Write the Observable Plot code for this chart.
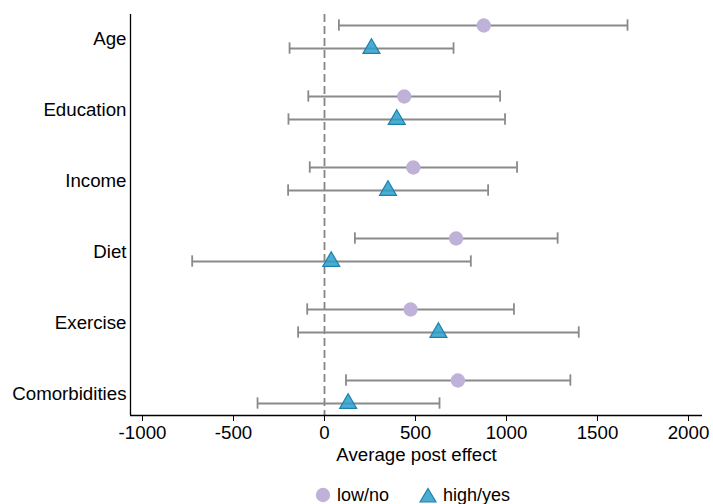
<!DOCTYPE html>
<html>
<head>
<meta charset="utf-8">
<script src="https://cdn.jsdelivr.net/npm/d3@7"></script>
<script src="https://cdn.jsdelivr.net/npm/@observablehq/plot@0.6"></script>
<style>
  html, body { margin: 0; padding: 0; background: #fff; }
  #chart { width: 713px; }
  .legend { position: relative; height: 34px; font-family: "Liberation Sans", Arial, sans-serif; font-size: 18px; color: #000; }
  .legend .item { position: absolute; top: 8px; height: 34px; display: flex; align-items: center; }
  .legend svg { margin-right: 6px; }
</style>
</head>
<body>
<div id="chart"></div>
<script>
const categories = ["Age", "Education", "Income", "Diet", "Exercise", "Comorbidities"];
const seriesNames = ["low/no", "high/yes"];
const lowEst = [875, 438, 488, 723, 473, 733];
const lowLo  = [79, -89, -81, 167, -95, 118];
const lowHi  = [1665, 965, 1058, 1281, 1041, 1351];
const highEst = [258, 397, 349, 37, 626, 130];
const highLo  = [-192, -198, -200, -727, -145, -368];
const highHi  = [709, 992, 899, 804, 1397, 632];
const xTicks = [-1000, -500, 0, 500, 1000, 1500, 2000];

const offsets = {"low/no": -0.162, "high/yes": 0.162};
const rows = [];
categories.forEach((c, i) => {
  rows.push({cat: c, i, series: "low/no", est: lowEst[i], lo: lowLo[i], hi: lowHi[i]});
  rows.push({cat: c, i, series: "high/yes", est: highEst[i], lo: highLo[i], hi: highHi[i]});
});
const yPos = d => d.i + offsets[d.series];
const capH = 0.08;
const low = rows.filter(d => d.series === "low/no");
const high = rows.filter(d => d.series === "high/yes");
const barColor = "#8a8a8a";
const xDomain = [-1066, 2077];
const yDomain = [-0.317, 5.331];

const plot = Plot.plot({
  width: 713,
  height: 470,
  marginLeft: 130,
  marginRight: 11,
  marginTop: 14,
  marginBottom: 55,
  style: {fontFamily: "\"Liberation Sans\", Arial, sans-serif", fontSize: "18.7px", color: "#000", background: "#fff"},
  x: {domain: xDomain},
  y: {domain: yDomain, reverse: true},
  marks: [
    Plot.ruleX([0], {stroke: "#858585", strokeWidth: 1.8, strokeDasharray: "8,4"}),
    Plot.ruleY(rows, {y: yPos, x1: "lo", x2: "hi", stroke: barColor, strokeWidth: 1.8}),
    Plot.ruleX(rows, {x: "lo", y1: d => yPos(d) - capH, y2: d => yPos(d) + capH, stroke: barColor, strokeWidth: 1.8}),
    Plot.ruleX(rows, {x: "hi", y1: d => yPos(d) - capH, y2: d => yPos(d) + capH, stroke: barColor, strokeWidth: 1.8}),
    Plot.dot(low, {x: "est", y: yPos, r: 7.2, fill: "#c0b1d9", stroke: "none", symbol: "circle"}),
    Plot.dot(high, {x: "est", y: yPos, r: 6.3, fill: "#2a9fc9", fillOpacity: 0.85, stroke: "#1b82ad", strokeWidth: 1.2, symbol: "triangle"}),
    Plot.ruleX([xDomain[0]], {stroke: "#000", strokeWidth: 1.3}),
    Plot.ruleY([yDomain[1]], {stroke: "#000", strokeWidth: 1.3}),
    Plot.axisX({ticks: xTicks, tickFormat: d => String(d), tickSize: 6, tickPadding: 4, stroke: "#000", label: "Average post effect", labelAnchor: "center", labelArrow: "none", labelOffset: 45}),
    Plot.axisY({ticks: d3.range(categories.length), tickFormat: i => categories[i], tickSize: 0, tickPadding: 4, dy: 2, label: null})
  ]
});
document.getElementById("chart").appendChild(plot);

// legend below the SVG, centered under the plot area
const legend = document.createElement("div");
legend.className = "legend";
const items = [
  {name: seriesNames[0], left: 315, svg: '<svg width="16" height="16"><circle cx="8" cy="8" r="7.2" fill="#c0b1d9"/></svg>'},
  {name: seriesNames[1], left: 419, svg: '<svg width="18" height="16"><path d="M9,1.5 L17,15 L1,15 Z" fill="#2a9fc9" fill-opacity="0.85" stroke="#1b82ad" stroke-width="1.2"/></svg>'}
];
for (const it of items) {
  const el = document.createElement("div");
  el.className = "item";
  el.style.left = it.left + "px";
  el.innerHTML = it.svg + "<span>" + it.name + "</span>";
  legend.appendChild(el);
}
document.getElementById("chart").appendChild(legend);
</script>
</body>
</html>
